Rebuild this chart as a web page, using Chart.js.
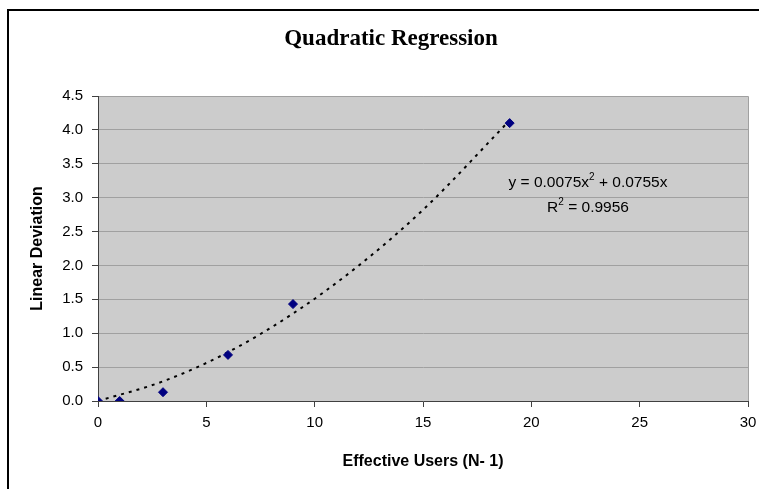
<!DOCTYPE html>
<html>
<head>
<meta charset="utf-8">
<script src="https://cdn.jsdelivr.net/npm/chart.js@4/dist/chart.umd.min.js"></script>
<style>
  html, body { margin: 0; padding: 0; background: #fff; }
  #wrap { width: 759px; height: 489px; }
</style>
</head>
<body>
<div id="wrap"><canvas id="chart" width="759" height="489"></canvas></div>
<script>
// measured points
const usersX = [0, 1, 3, 6, 9, 19];
const deviationY = [0, 0, 0.13, 0.68, 1.43, 4.1];

// trendline
const trendX = [0, 3, 6, 9, 12, 15, 19];
const trendY = [0, 0.29, 0.72, 1.29, 1.99, 2.82, 4.14];

const yTicks = [0, 0.5, 1, 1.5, 2, 2.5, 3, 3.5, 4, 4.5];
const xTicks = [0, 5, 10, 15, 20, 25, 30];

const eqLine1 = ['y = 0.0075x', '2', ' + 0.0755x'];
const eqLine2 = ['R', '2', ' = 0.9956'];
const chartTitle = 'Quadratic Regression';

const ctx = document.getElementById('chart').getContext('2d');

// frame, plot background, title and equation
const decor = {
  id: 'decor',
  beforeDraw(chart) {
    const c = chart.ctx;
    const a = chart.chartArea;
    c.save();
    c.fillStyle = '#fff';
    c.fillRect(0, 0, chart.width, chart.height);
    c.strokeStyle = '#000';
    c.lineWidth = 2;
    c.beginPath();
    c.moveTo(8, chart.height + 5);
    c.lineTo(8, 10);
    c.lineTo(chart.width + 5, 10);
    c.stroke();
    c.fillStyle = '#cccccc';
    c.fillRect(a.left, a.top, a.right - a.left, a.bottom - a.top);
    c.strokeStyle = '#a0a0a0';
    c.lineWidth = 1;
    c.beginPath();
    c.moveTo(a.left, a.top + 0.5);
    c.lineTo(a.right + 0.5, a.top + 0.5);
    c.lineTo(a.right + 0.5, a.bottom);
    c.stroke();
    c.fillStyle = '#000';
    c.font = 'bold 23px "Liberation Serif"';
    c.textAlign = 'center';
    c.textBaseline = 'middle';
    c.fillText(chartTitle, 391, 39);
    c.restore();
  },
  afterDatasetsDraw(chart) {
    const c = chart.ctx;
    c.save();
    c.fillStyle = '#000';
    c.textBaseline = 'alphabetic';
    const drawParts = (parts, cx, y) => {
      const big = '15.5px "Liberation Sans"';
      const small = '10px "Liberation Sans"';
      c.font = big; const w0 = c.measureText(parts[0]).width;
      c.font = small; const w1 = c.measureText(parts[1]).width;
      c.font = big; const w2 = c.measureText(parts[2]).width;
      let x = cx - (w0 + w1 + w2) / 2;
      c.textAlign = 'left';
      c.font = big; c.fillText(parts[0], x, y); x += w0;
      c.font = small; c.fillText(parts[1], x, y - 7); x += w1;
      c.font = big; c.fillText(parts[2], x, y);
    };
    drawParts(eqLine1, 588, 187);
    drawParts(eqLine2, 588, 212);
    c.restore();
  }
};

new Chart(ctx, {
  type: 'scatter',
  data: {
    datasets: [
      {
        label: 'data',
        data: usersX.map((x, i) => ({ x: x, y: deviationY[i] })),
        backgroundColor: '#000080',
        borderColor: '#000080',
        pointStyle: 'rectRot',
        pointRadius: 4.5,
        order: 1
      },
      {
        label: 'trend',
        type: 'line',
        data: trendX.map((x, i) => ({ x: x, y: trendY[i] })),
        borderColor: '#000',
        borderWidth: 2,
        borderDash: [3, 5],
        pointRadius: 0,
        fill: false,
        cubicInterpolationMode: 'monotone',
        order: 2
      }
    ]
  },
  options: {
    responsive: false,
    animation: false,
    layout: { padding: { top: 96, right: 11, left: 0, bottom: 0 } },
    plugins: {
      legend: { display: false },
      tooltip: { enabled: false },
      title: { display: false }
    },
    scales: {
      x: {
        type: 'linear',
        min: 0,
        max: 30,
        afterBuildTicks: s => { s.ticks = xTicks.map(v => ({ value: v })); },
        afterFit: s => { s.height = 88; s.paddingLeft = 0; s.paddingRight = 0; },
        grid: { drawOnChartArea: false, drawTicks: true, tickLength: 6, tickColor: '#404040' },
        border: { color: '#404040', width: 1 },
        ticks: {
          color: '#000',
          font: { family: 'Liberation Sans', size: 15 },
          padding: 7,
          maxRotation: 0
        },
        title: {
          display: true,
          text: 'Effective Users (N- 1)',
          color: '#000',
          font: { family: 'Liberation Sans', size: 16, weight: 'bold' },
          padding: { top: 0, bottom: 18 }
        }
      },
      y: {
        type: 'linear',
        min: 0,
        max: 4.5,
        afterBuildTicks: s => { s.ticks = yTicks.map(v => ({ value: v })); },
        afterFit: s => { s.width = 98; s.paddingTop = 0; s.paddingBottom = 0; },
        grid: { color: '#a0a0a0', drawTicks: true, tickLength: 6, tickColor: '#404040' },
        border: { color: '#404040', width: 1 },
        ticks: {
          color: '#000',
          font: { family: 'Liberation Sans', size: 15 },
          padding: 9,
          callback: v => v.toFixed(1)
        },
        title: {
          display: true,
          text: 'Linear Deviation',
          color: '#000',
          font: { family: 'Liberation Sans', size: 16, weight: 'bold' },
          padding: { top: 28, bottom: 0 }
        }
      }
    }
  },
  plugins: [decor]
});
</script>
</body>
</html>
